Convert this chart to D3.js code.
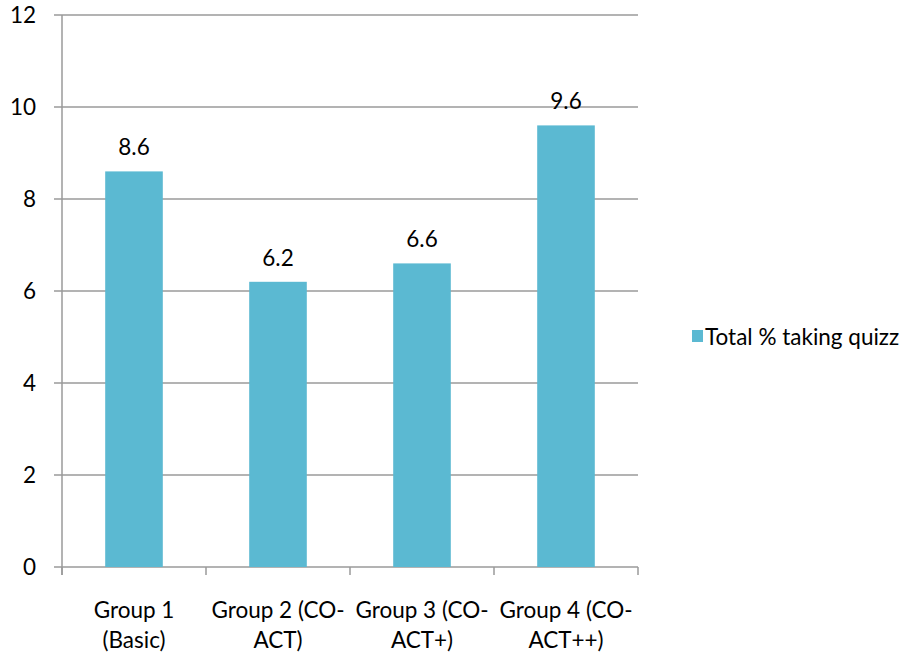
<!DOCTYPE html>
<html><head><meta charset="utf-8">
<script src="https://cdn.jsdelivr.net/npm/d3@7"></script>
<style>body{margin:0;background:#fff}svg text{font-family:Lato,"Open Sans",sans-serif;fill:#000}</style>
</head><body>
<svg id="c" width="915" height="655"></svg>
<script>
const categories = [["Group 1","(Basic)"],["Group 2 (CO-","ACT)"],["Group 3 (CO-","ACT+)"],["Group 4 (CO-","ACT++)"]];
const values = [8.6, 6.2, 6.6, 9.6];
const yTicks = [0,2,4,6,8,10,12];
const seriesName = "Total % taking quizz";
const color = "#5BB9D2";
const FS = 22.5;

const svg = d3.select("#c");
const L = 62, R = 638, T = 15, B = 567;
const x = d3.scaleBand().domain(d3.range(values.length)).range([L, R]).paddingInner(0.6).paddingOuter(0.3);
const xb = d3.scaleBand().domain(d3.range(values.length)).range([L, R]);
const y = d3.scaleLinear().domain([0, 12]).range([B, T]);

svg.append("g").selectAll("line").data(yTicks).join("line")
  .attr("x1", L - 8).attr("x2", R).attr("y1", d => y(d)).attr("y2", d => y(d))
  .attr("stroke", "#9a9a9a").attr("stroke-width", 1.5);
svg.append("line").attr("x1", L).attr("x2", L).attr("y1", T).attr("y2", B + 8)
  .attr("stroke", "#9a9a9a").attr("stroke-width", 1.5);
svg.append("g").selectAll("line").data(d3.range(values.length + 1)).join("line")
  .attr("x1", d => L + d * xb.bandwidth()).attr("x2", d => L + d * xb.bandwidth())
  .attr("y1", B).attr("y2", B + 8).attr("stroke", "#9a9a9a").attr("stroke-width", 1.5);
svg.append("g").selectAll("text").data(yTicks).join("text")
  .attr("x", 36).attr("y", d => y(d) + 8).attr("text-anchor", "end")
  .attr("font-size", FS).text(d => d);
svg.append("g").selectAll("rect").data(values).join("rect")
  .attr("x", (d, i) => x(i)).attr("width", x.bandwidth())
  .attr("y", d => y(d)).attr("height", d => B - y(d)).attr("fill", color);
svg.append("g").selectAll("text").data(values).join("text")
  .attr("x", (d, i) => x(i) + x.bandwidth() / 2).attr("y", d => y(d) - 16)
  .attr("text-anchor", "middle").attr("font-size", FS).text(d => d.toFixed(1));
const cl = svg.append("g").selectAll("text").data(categories).join("text")
  .attr("text-anchor", "middle").attr("font-size", FS);
cl.each(function(d, i) {
  const t = d3.select(this);
  d.forEach((s, j) => t.append("tspan").attr("x", xb(i) + xb.bandwidth() / 2).attr("y", 618 + j * 30).text(s));
});
svg.append("rect").attr("x", 692).attr("y", 330).attr("width", 11).attr("height", 12).attr("fill", color);
svg.append("text").attr("x", 705).attr("y", 345).attr("font-size", FS).text(seriesName);
</script>
</body></html>
